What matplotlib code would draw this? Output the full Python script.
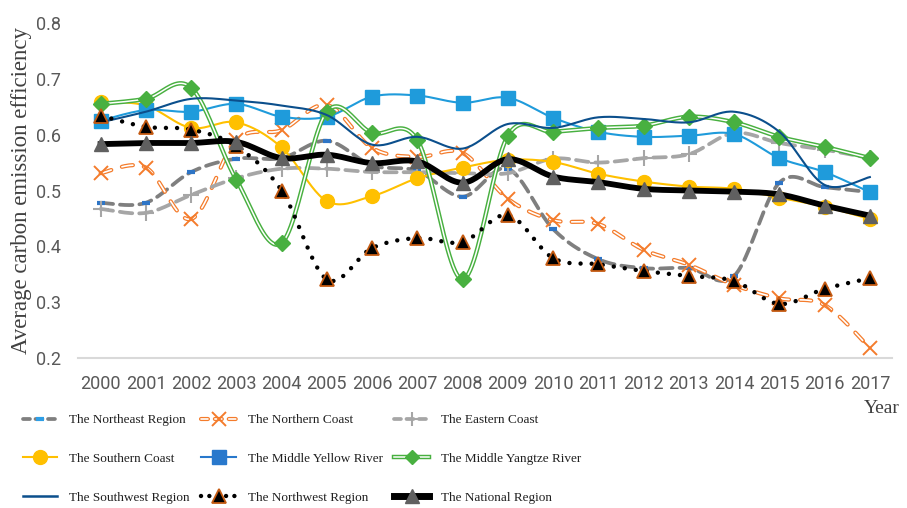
import numpy as np
import matplotlib
matplotlib.use("Agg")
import matplotlib.pyplot as plt
from matplotlib.lines import Line2D
from matplotlib.legend_handler import HandlerTuple

plt.rcParams['lines.scale_dashes'] = False

years = list(range(2000, 2018))

northeast = [0.478, 0.478, 0.533, 0.557, 0.558, 0.589, 0.545, 0.535, 0.489, 0.539,
             0.431, 0.377, 0.361, 0.361, 0.347, 0.514, 0.506, 0.497]
northern_coast = [0.531, 0.541, 0.449, 0.590, 0.608, 0.653, 0.576, 0.560, 0.567, 0.485,
                  0.447, 0.440, 0.394, 0.367, 0.331, 0.307, 0.295, 0.218]
eastern_coast = [0.467, 0.460, 0.492, 0.522, 0.539, 0.539, 0.533, 0.533, 0.531, 0.531,
                 0.557, 0.550, 0.558, 0.565, 0.603, 0.585, 0.573, 0.558]
southern_coast = [0.659, 0.652, 0.612, 0.622, 0.577, 0.481, 0.490, 0.522, 0.541, 0.555,
                  0.551, 0.530, 0.516, 0.507, 0.503, 0.487, 0.471, 0.449]
middle_yellow = [0.625, 0.644, 0.641, 0.655, 0.632, 0.632, 0.668, 0.670, 0.657, 0.666,
                 0.630, 0.605, 0.596, 0.598, 0.601, 0.558, 0.533, 0.497]
middle_yangtze = [0.655, 0.664, 0.684, 0.519, 0.406, 0.641, 0.603, 0.590, 0.341, 0.598,
                  0.605, 0.612, 0.616, 0.632, 0.622, 0.596, 0.578, 0.558]
southwest = [0.622, 0.641, 0.664, 0.661, 0.652, 0.635, 0.582, 0.596, 0.575, 0.619,
             0.612, 0.631, 0.628, 0.622, 0.641, 0.605, 0.510, 0.524]
northwest = [0.634, 0.614, 0.609, 0.579, 0.500, 0.341, 0.397, 0.415, 0.408, 0.456,
             0.379, 0.368, 0.356, 0.347, 0.338, 0.297, 0.324, 0.343]
national = [0.583, 0.585, 0.585, 0.587, 0.558, 0.564, 0.549, 0.552, 0.514, 0.556,
            0.525, 0.515, 0.503, 0.500, 0.498, 0.493, 0.473, 0.455]


def smooth(xs, ys, n=24):
    # Excel-like smoothed line (Catmull-Rom bezier)
    pts = np.column_stack([xs, ys]).astype(float)
    P = np.vstack([pts[0], pts, pts[-1]])
    t = np.linspace(0, 1, n, endpoint=False)[:, None]
    out = []
    for i in range(1, len(P) - 2):
        p0, p1, p2, p3 = P[i - 1], P[i], P[i + 1], P[i + 2]
        c1 = p1 + (p2 - p0) / 6
        c2 = p2 - (p3 - p1) / 6
        out.append((1 - t) ** 3 * p1 + 3 * (1 - t) ** 2 * t * c1 + 3 * (1 - t) * t ** 2 * c2 + t ** 3 * p2)
    out.append(pts[-1:])
    s = np.vstack(out)
    return s[:, 0], s[:, 1]


fig = plt.figure(figsize=(9.07, 5.08), dpi=100)
ax = fig.add_axes([0.086, 0.295, 0.898, 0.66])
x = np.arange(len(years))

handles = []
labels = []

# The Northeast Region
sx, sy = smooth(x, northeast)
ax.plot(sx, sy, color='#7f7f7f', lw=2.7, dashes=(9, 5), dash_capstyle='round', zorder=2)
ax.plot(x, northeast, ls='none', marker='_', ms=6, mew=3, color='#2e75c6', zorder=2.1)
handles.append((Line2D([], [], color='#7f7f7f', lw=2.7, dashes=(5, 4), dash_capstyle='round'),
                Line2D([], [], ls='none', marker='_', ms=6, mew=3, color='#2e9ee6')))
labels.append('The Northeast Region')

# The Northern Coast (hollow dashes)
sx, sy = smooth(x, northern_coast)
ax.plot(sx, sy, color='#f47c2c', lw=3.0, dashes=(8, 8), dash_capstyle='round', zorder=2.2)
ax.plot(sx, sy, color='white', lw=1.2, dashes=(8, 8), dash_capstyle='round', zorder=2.3)
ax.plot(x, northern_coast, ls='none', marker='x', ms=10, mew=1.4, color='#f47c2c', zorder=2.4)
handles.append((Line2D([], [], color='#f47c2c', lw=3.0, dashes=(5, 5), dash_capstyle='round'),
                Line2D([], [], color='white', lw=1.2, dashes=(5, 5), dash_capstyle='round'),
                Line2D([], [], ls='none', marker='x', ms=10, mew=1.4, color='#f47c2c')))
labels.append('The Northern Coast')

# The Eastern Coast
sx, sy = smooth(x, eastern_coast)
ax.plot(sx, sy, color='#a6a6a6', lw=2.7, dashes=(9, 5), dash_capstyle='round', zorder=2.5)
ax.plot(x, eastern_coast, ls='none', marker='+', ms=11, mew=1.5, color='#a6a6a6', zorder=2.6)
handles.append((Line2D([], [], color='#a6a6a6', lw=2.7, dashes=(5, 4), dash_capstyle='round'),
                Line2D([], [], ls='none', marker='+', ms=10, mew=1.5, color='#a6a6a6')))
labels.append('The Eastern Coast')

# The Southern Coast
sx, sy = smooth(x, southern_coast)
ax.plot(sx, sy, color='#ffc000', lw=1.5, zorder=2.7)
ax.plot(x, southern_coast, ls='none', marker='o', ms=10, color='#ffc000', zorder=2.8)
handles.append(Line2D([], [], color='#ffc000', lw=1.5, marker='o', ms=10))
labels.append('The Southern Coast')

# The Middle Yellow River
sx, sy = smooth(x, middle_yellow)
ax.plot(sx, sy, color='#1f9bdb', lw=1.5, zorder=2.9)
ax.plot(x, middle_yellow, ls='none', marker='s', ms=9.5, color='#1f9bdb', zorder=3.0)
handles.append(Line2D([], [], color='#2878cc', lw=1.5, marker='s', ms=9.5))
labels.append('The Middle Yellow River')

# The Middle Yangtze River (double line)
sx, sy = smooth(x, middle_yangtze)
ax.plot(sx, sy, color='#48b040', lw=3.2, zorder=3.1)
ax.plot(sx, sy, color='white', lw=1.1, zorder=3.2)
ax.plot(x, middle_yangtze, ls='none', marker='D', ms=8, color='#48b040', zorder=3.3)
handles.append((Line2D([], [], color='#48b040', lw=3.2),
                Line2D([], [], color='white', lw=1.1),
                Line2D([], [], ls='none', marker='D', ms=7, color='#48b040')))
labels.append('The Middle Yangtze River')

# The Southwest Region
sx, sy = smooth(x, southwest)
ax.plot(sx, sy, color='#0b4f8c', lw=1.5, zorder=3.4)
handles.append(Line2D([], [], color='#0b4f8c', lw=1.8))
labels.append('The Southwest Region')

# The Northwest Region
sx, sy = smooth(x, northwest)
ax.plot(sx, sy, color='black', lw=3.2, dashes=(0.01, 8), dash_capstyle='round', zorder=3.5)
ax.plot(x, northwest, ls='none', marker='^', ms=10, mfc='black', mec='#c55a11', mew=1.3, zorder=3.6)
handles.append((Line2D([], [], color='black', lw=3.2, dashes=(0.01, 6), dash_capstyle='round'),
                Line2D([], [], ls='none', marker='^', ms=10, mfc='black', mec='#c55a11', mew=1.3)))
labels.append('The Northwest Region')

# The National Region
sx, sy = smooth(x, national)
ax.plot(sx, sy, color='black', lw=4.2, zorder=3.7)
ax.plot(x, national, ls='none', marker='^', ms=10, color='#606060', zorder=3.8)
handles.append(Line2D([], [], color='black', lw=5, marker='^', ms=10, mfc='#606060', mec='#606060'))
labels.append('The National Region')

ax.set_xlim(-0.5, len(years) - 0.5)
ax.set_ylim(0.2, 0.8)
ax.set_xticks(x)
ax.set_xticklabels([str(y) for y in years])
ax.set_yticks([0.2, 0.3, 0.4, 0.5, 0.6, 0.7, 0.8])
ax.set_yticklabels(['0.2', '0.3', '0.4', '0.5', '0.6', '0.7', '0.8'])
ax.tick_params(axis='both', length=0, labelsize=13, labelcolor='#595959')
ax.tick_params(axis='x', pad=12)
ax.tick_params(axis='y', pad=12)
for lab in ax.get_xticklabels() + ax.get_yticklabels():
    lab.set_fontfamily('Roboto')
for side in ['top', 'right', 'left']:
    ax.spines[side].set_visible(False)
ax.spines['bottom'].set_color('#d9d9d9')
ax.spines['bottom'].set_linewidth(1.5)

ax.set_ylabel('Average carbon emission efficiency', family='Liberation Serif', fontsize=16.5,
              color='#404040', labelpad=3)
fig.text(0.952, 0.195, 'Year', family='Liberation Serif', fontsize=14, color='#404040',
         ha='left', va='center')

# legend: 3 columns, row-major reading order in the reference
order = [0, 3, 6, 1, 4, 7, 2, 5, 8]
leg = fig.legend([handles[i] for i in order], [labels[i] for i in order], ncol=3,
                 loc='upper left', bbox_to_anchor=(0.025, 0.185), frameon=False,
                 prop={'family': 'Liberation Serif', 'size': 9.5}, handlelength=2.6,
                 handletextpad=0.9, labelspacing=2.0, columnspacing=0.9,
                 borderaxespad=0, borderpad=0,
                 handler_map={tuple: HandlerTuple(ndivide=1)})
for t in leg.get_texts():
    t.set_color('#202020')

fig.savefig('out.png', dpi=100)
